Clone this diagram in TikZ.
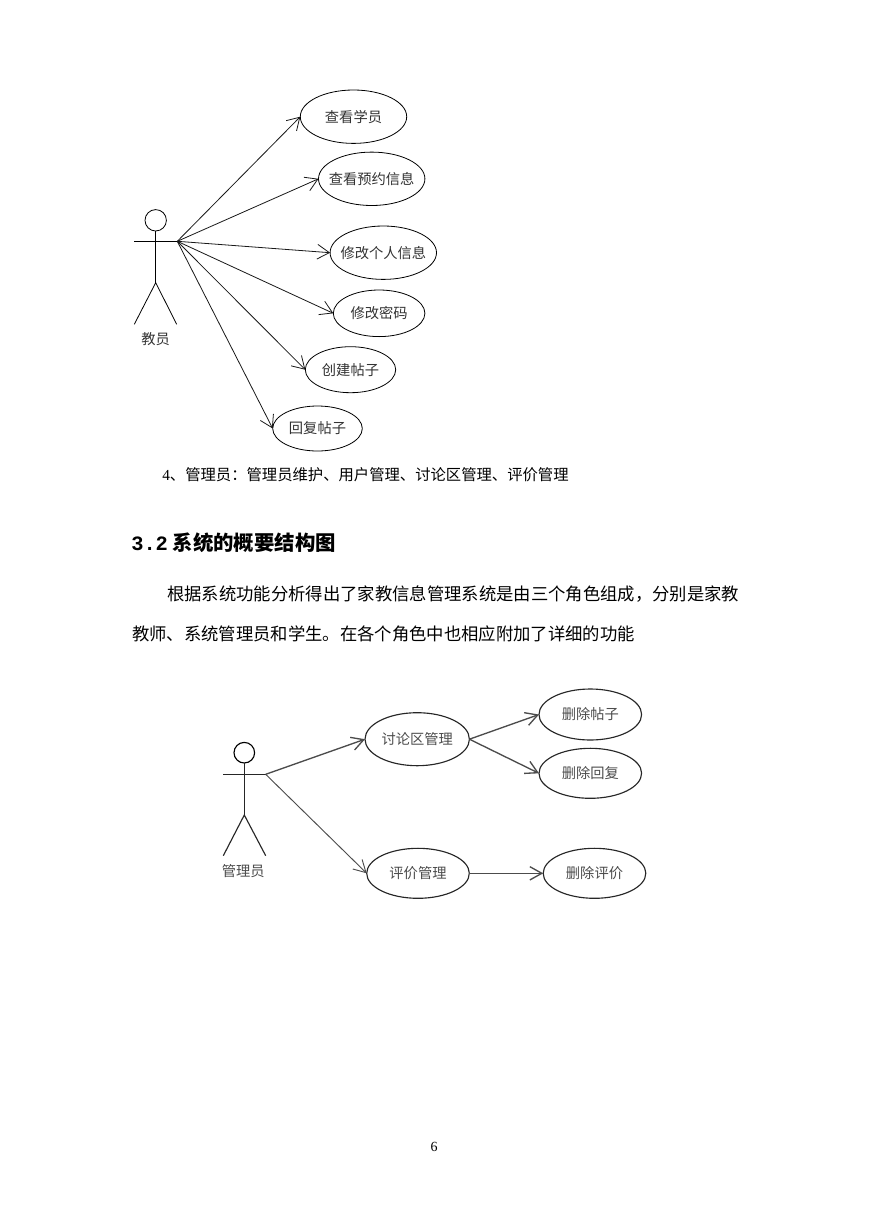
\documentclass[tikz,border=0pt]{standalone}
\usepackage{fontspec}
\setmainfont{Noto Sans CJK SC}
\newfontfamily\serifnum{Liberation Serif}
\newfontfamily\mononum{Liberation Mono}
\usetikzlibrary{shapes.geometric,arrows.meta}
\newcommand{\lbl}[1]{\makebox[0pt][c]{#1}}
\tikzset{
  usecase/.style 2 args={draw=black,line width=0.6pt,ellipse,inner sep=0pt,outer sep=0pt,
    minimum width=#1*1.5pt,minimum height=#2*1.5pt,font=\fontsize{10.7pt}{12pt}\selectfont,text=black!80},
  usecasetwo/.style 2 args={usecase={#1}{#2},draw=black!85,line width=0.85pt,text=black!70},
  head/.style={draw=black,line width=0.6pt,circle,inner sep=0pt,outer sep=0pt,minimum size=#1*1.5pt},
  limb/.style={draw=black,line width=0.6pt},
  limbtwo/.style={draw=black!85,line width=0.85pt},
  assoc/.style={draw=black!90,line width=0.6pt,-{Straight Barb[length=9pt,width=11pt]}},
  assoctwo/.style={draw=black!70,line width=1pt,-{Straight Barb[length=9pt,width=10pt]}},
  actorlabel/.style={inner sep=0pt,font=\fontsize{10.7pt}{12pt}\selectfont,text=black!80},
  bodytext/.style={anchor=west,inner sep=0pt,font=\fontsize{13pt}{15pt}\selectfont},
  smalltext/.style={anchor=west,inner sep=0pt,font=\fontsize{11.5pt}{14pt}\selectfont},
  headingtext/.style={anchor=west,inner sep=0pt,font=\fontsize{15.3pt}{18pt}\selectfont\bfseries},
}
\begin{document}
\begin{tikzpicture}[x=0.75pt,y=-0.75pt]
\useasboundingbox[fill=white] (0,0) rectangle (869,1228);

% first diagram
\node[head=10.7] (h1) at (155.7,220.3) {};
\coordinate (la1) at (134.3,241.3);
\coordinate (ra1) at (177.3,241.3);
\coordinate (cr1) at (155.7,282.7);
\coordinate (lf1) at (134.3,324.3);
\coordinate (rf1) at (176.7,324.3);
\draw[limb] (h1.south) -- (cr1);
\draw[limb] (la1) -- (ra1);
\draw[limb] (lf1) -- (cr1) -- (rf1);
\node[actorlabel] (teacher) at (155.7,339.5) {教员};

\node[usecase={53.2}{26.7}] (u1) at (353.5,116.7) {\lbl{查看学员}};
\node[usecase={53.2}{26.7}] (u2) at (371.7,178.8) {\lbl{查看预约信息}};
\node[usecase={53.2}{26.7}] (u3) at (383.3,252.7) {\lbl{修改个人信息}};
\node[usecase={45.8}{23.3}] (u4) at (379.1,313.3) {\lbl{修改密码}};
\node[usecase={45.2}{23}] (u5) at (350.5,369.7) {\lbl{创建帖子}};
\node[usecase={44.8}{22.5}] (u6) at (317.5,428.5) {\lbl{回复帖子}};
\foreach \t in {u1,u2,u3,u4,u5,u6}
  \draw[assoc] (ra1) -- (\t.west);

% text
\node[smalltext] (t1) at (162,475) {{\serifnum 4}、管理员：管理员维护、用户管理、讨论区管理、评价管理};
\node[headingtext] (t2) at (131,543) {{\mononum\bfseries 3.2} 系统的概要结构图};
\node[bodytext] (t3) at (167,594) {根据系统功能分析得出了家教信息管理系统是由三个角色组成，分别是家教};
\node[bodytext] (t4) at (132,634) {教师、系统管理员和学生。在各个角色中也相应附加了详细的功能};
\node[inner sep=0pt,font=\serifnum\fontsize{10.5pt}{12pt}\selectfont] (pg) at (434,1147) {6};

% second diagram
\node[head=10.3,line width=0.85pt] (h2) at (244.3,752.7) {};
\coordinate (la2) at (223.3,774.3);
\coordinate (ra2) at (265.7,774.3);
\coordinate (cr2) at (244.3,815);
\coordinate (lf2) at (223.3,855.7);
\coordinate (rf2) at (265.7,855.7);
\draw[limbtwo] (h2.south) -- (cr2);
\draw[limbtwo] (la2) -- (ra2);
\draw[limbtwo] (lf2) -- (cr2) -- (rf2);
\node[actorlabel,text=black!70] (admin) at (243.3,870.7) {管理员};

\node[usecasetwo={52.2}{26.5}] (a1) at (417.2,739.2) {\lbl{讨论区管理}};
\node[usecasetwo={51.3}{25.5}] (a2) at (590.3,714.5) {\lbl{删除帖子}};
\node[usecasetwo={51.3}{25}] (a3) at (590.3,773.3) {\lbl{删除回复}};
\node[usecasetwo={51.3}{25}] (a4) at (418,873.3) {\lbl{评价管理}};
\node[usecasetwo={51.3}{25}] (a5) at (594.5,873.3) {\lbl{删除评价}};
\draw[assoctwo] (ra2) -- (a1.west);
\draw[assoctwo,line width=0.7pt] (ra2) -- (a4.west);
\draw[assoctwo] (a1.east) -- (a2.west);
\draw[assoctwo] (a1.east) -- (a3.west);
\draw[assoctwo] (a4.east) -- (a5.west);
\end{tikzpicture}
\end{document}
